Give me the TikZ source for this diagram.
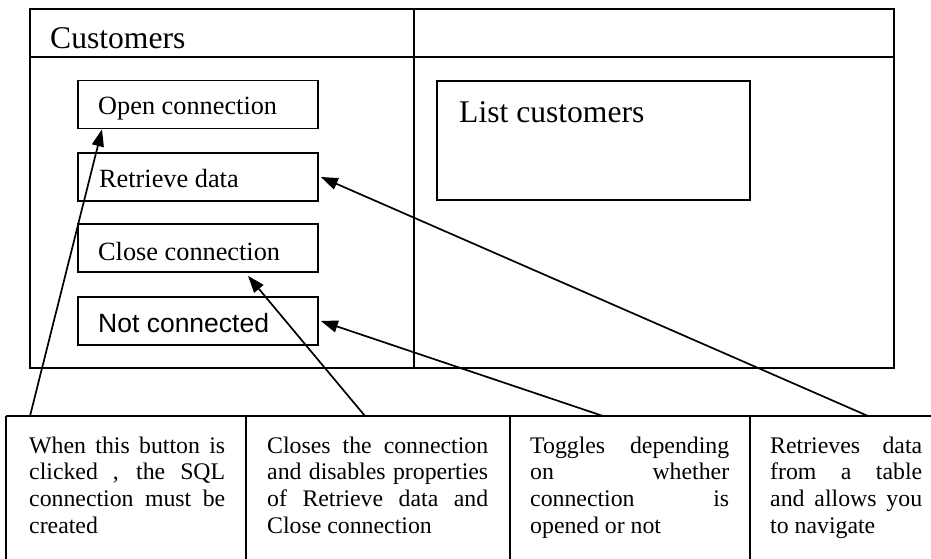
\documentclass[tikz,border=0pt]{standalone}
\usepackage{fontspec}
\setmainfont{Liberation Serif}
\newfontfamily\arialfont{Liberation Sans}
\usetikzlibrary{arrows.meta}
\tikzset{
  frameline/.style={line width=1.7pt},
  btn/.style={draw, line width=1.7pt, minimum width=240pt, minimum height=48pt, inner sep=0pt},
  btntext/.style={anchor=base west, inner sep=0pt, font=\fontsize{26.3}{30}\selectfont},
  bigtext/.style={anchor=base west, inner sep=0pt, font=\fontsize{31.6}{36}\selectfont},
  celltext/.style={anchor=base west, inner sep=0pt, align=left, font=\fontsize{23.8}{26.7}\selectfont},
  arr/.style={line width=1.7pt, -{Triangle[length=17pt,width=12pt]}}
}
\newcommand{\jl}[2]{\makebox[#1][s]{#2}}
\begin{document}
\begin{tikzpicture}[x=1pt,y=-1pt]
\useasboundingbox (0,0) rectangle (931,559);
% outer frame
\draw[frameline] (30,9) rectangle (894,368);
\draw[frameline] (30,57) -- (894,57);
\draw[frameline] (414,9) -- (414,368);
\node[bigtext] (cust) at (50,49) {Customers};
% list box
\node[draw, line width=1.7pt, minimum width=313pt, minimum height=119pt, inner sep=0pt] (list) at (593.5,140.5) {};
\node[bigtext] (listT) at (459,122) {List customers};
% buttons
\node[btn] (open) at (198,104.5) {};
\node[btntext] (openT) at (98,115) {Open connection};
\node[btn] (retr) at (198,177) {};
\node[btntext] (retrT) at (99,187) {Retrieve data};
\node[btn] (close) at (198,248) {};
\node[btntext] (closeT) at (98,260) {Close connection};
\node[btn] (notc) at (198,321) {};
\node[btntext, font=\arialfont\fontsize{26.5}{30}\selectfont] (notcT) at (98,332) {Not connected};
% table
\draw[frameline] (6,416) -- (931,416);
\draw[frameline] (6,416) -- (6,559);
\draw[frameline] (246,416) -- (246,559);
\draw[frameline] (510,416) -- (510,559);
\draw[frameline] (750,416) -- (750,559);
\node[celltext] (c1) at (29,533.3) {\jl{196pt}{When this button is}\\\jl{196pt}{clicked , the SQL}\\\jl{196pt}{connection must be}\\created};
\node[celltext] (c2) at (267,533.3) {\jl{221pt}{Closes the connection}\\\jl{221pt}{and disables properties}\\\jl{221pt}{of Retrieve data and}\\Close connection};
\node[celltext] (c3) at (530,533.3) {\jl{199pt}{Toggles depending}\\\jl{199pt}{on whether}\\\jl{199pt}{connection is}\\opened or not};
\node[celltext] (c4) at (770,533.3) {\jl{152pt}{Retrieves data}\\\jl{152pt}{from a table}\\\jl{152pt}{and allows you}\\to navigate};
% arrow starts on the table top
\coordinate (s1) at (30,416);
\coordinate (s2) at (365,416);
\coordinate (s3) at (603,416);
\coordinate (s4) at (868,416);
\draw[arr] (s1) -- ([xshift=-96pt]open.south);
\draw[arr] (s2) -- ([xshift=50pt,yshift=-3pt]close.south);
\draw[arr] (s3) -- ([xshift=2pt]notc.east);
\draw[arr] (s4) -- ([xshift=2pt]retr.east);
\end{tikzpicture}
\end{document}
